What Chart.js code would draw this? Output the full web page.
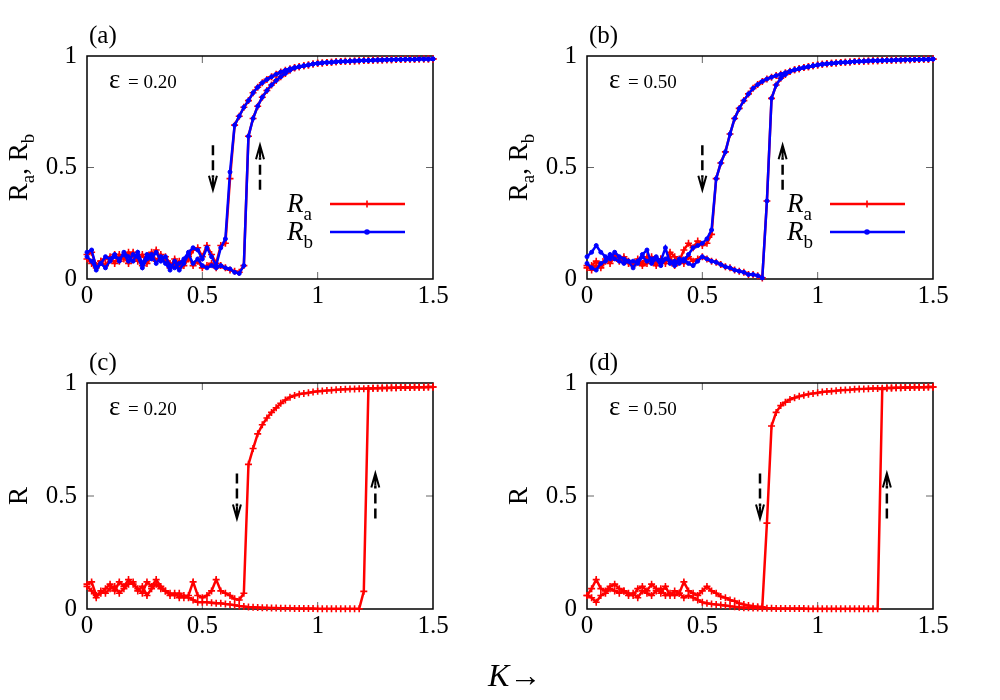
<!DOCTYPE html>
<html>
<head>
<meta charset="utf-8">
<script src="https://cdn.jsdelivr.net/npm/chart.js@4"></script>
<style>
body { margin: 0; background: #fff; }
#wrap { position: relative; width: 1000px; height: 700px; }
.panel { position: absolute; width: 500px; height: 330px; }
#kLabel { position: absolute; left: 488px; top: 659px; font: 32px "Liberation Serif", serif; line-height: 1; white-space: nowrap; }
</style>
</head>
<body>
<div id="wrap">
  <div class="panel" style="left:0;top:0"><canvas id="chartA" width="500" height="330"></canvas></div>
  <div class="panel" style="left:500px;top:0"><canvas id="chartB" width="500" height="330"></canvas></div>
  <div class="panel" style="left:0;top:330px"><canvas id="chartC" width="500" height="330"></canvas></div>
  <div class="panel" style="left:500px;top:330px"><canvas id="chartD" width="500" height="330"></canvas></div>
  <div id="kLabel"><i>K</i>&rarr;</div>
</div>
<script>
// coupling strength K, one point every 0.02
const kValues = [0, 0.02, 0.04, 0.06, 0.08, 0.1, 0.12, 0.14, 0.16, 0.18,
  0.2, 0.22, 0.24, 0.26, 0.28, 0.3, 0.32, 0.34, 0.36, 0.38,
  0.4, 0.42, 0.44, 0.46, 0.48, 0.5, 0.52, 0.54, 0.56, 0.58,
  0.6, 0.62, 0.64, 0.66, 0.68, 0.7, 0.72, 0.74, 0.76, 0.78,
  0.8, 0.82, 0.84, 0.86, 0.88, 0.9, 0.92, 0.94, 0.96, 0.98,
  1, 1.02, 1.04, 1.06, 1.08, 1.1, 1.12, 1.14, 1.16, 1.18,
  1.2, 1.22, 1.24, 1.26, 1.28, 1.3, 1.32, 1.34, 1.36, 1.38,
  1.4, 1.42, 1.44, 1.46, 1.48, 1.5];

const xTicks = [0, 0.5, 1, 1.5];
const yTicks = [0, 0.5, 1];

// (a) eps = 0.20
const aRaDown = [0.11, 0.12, 0.06, 0.08, 0.09, 0.10, 0.07, 0.11, 0.09, 0.12,
  0.10, 0.08, 0.11, 0.07, 0.10, 0.13, 0.09, 0.10, 0.07, 0.06,
  0.08, 0.06, 0.09, 0.13, 0.14, 0.10, 0.15, 0.11, 0.07, 0.15,
  0.16, 0.45, 0.69, 0.73, 0.77, 0.80, 0.835, 0.86, 0.88, 0.895,
  0.907, 0.918, 0.928, 0.936, 0.943, 0.948, 0.952, 0.956, 0.960, 0.964,
  0.967, 0.969, 0.971, 0.972, 0.974, 0.975, 0.976, 0.977, 0.978, 0.979,
  0.980, 0.980, 0.981, 0.982, 0.982, 0.983, 0.983, 0.984, 0.984, 0.985,
  0.985, 0.985, 0.986, 0.986, 0.986, 0.987];
const aRaUp = [0.09, 0.07, 0.05, 0.08, 0.06, 0.09, 0.11, 0.08, 0.10, 0.07,
  0.12, 0.09, 0.06, 0.10, 0.12, 0.08, 0.11, 0.08, 0.05, 0.09,
  0.05, 0.08, 0.10, 0.06, 0.08, 0.05, 0.06, 0.07, 0.05, 0.06,
  0.05, 0.04, 0.035, 0.03, 0.06, 0.64, 0.72, 0.775, 0.815, 0.845,
  0.87, 0.89, 0.907, 0.922, 0.936, 0.946, 0.952, 0.956, 0.960, 0.964,
  0.967, 0.969, 0.971, 0.972, 0.974, 0.975, 0.976, 0.977, 0.978, 0.979,
  0.980, 0.980, 0.981, 0.982, 0.982, 0.983, 0.983, 0.984, 0.984, 0.985,
  0.985, 0.985, 0.986, 0.986, 0.986, 0.987];
const aRbDown = [0.12, 0.13, 0.05, 0.07, 0.10, 0.09, 0.11, 0.08, 0.12, 0.10,
  0.08, 0.12, 0.07, 0.11, 0.09, 0.12, 0.08, 0.10, 0.06, 0.05,
  0.07, 0.09, 0.12, 0.14, 0.13, 0.09, 0.14, 0.10, 0.06, 0.14,
  0.18, 0.48, 0.69, 0.73, 0.77, 0.80, 0.835, 0.86, 0.88, 0.895,
  0.907, 0.918, 0.928, 0.936, 0.943, 0.948, 0.952, 0.956, 0.960, 0.964,
  0.967, 0.969, 0.971, 0.972, 0.974, 0.975, 0.976, 0.977, 0.978, 0.979,
  0.980, 0.980, 0.981, 0.982, 0.982, 0.983, 0.983, 0.984, 0.984, 0.985,
  0.985, 0.985, 0.986, 0.986, 0.986, 0.987];
const aRbUp = [0.10, 0.08, 0.04, 0.07, 0.05, 0.08, 0.10, 0.09, 0.11, 0.08,
  0.11, 0.10, 0.05, 0.09, 0.11, 0.07, 0.10, 0.07, 0.04, 0.08,
  0.04, 0.07, 0.11, 0.07, 0.09, 0.06, 0.05, 0.06, 0.05, 0.06,
  0.05, 0.045, 0.03, 0.025, 0.06, 0.64, 0.72, 0.775, 0.815, 0.845,
  0.87, 0.89, 0.907, 0.922, 0.936, 0.946, 0.952, 0.956, 0.960, 0.964,
  0.967, 0.969, 0.971, 0.972, 0.974, 0.975, 0.976, 0.977, 0.978, 0.979,
  0.980, 0.980, 0.981, 0.982, 0.982, 0.983, 0.983, 0.984, 0.984, 0.985,
  0.985, 0.985, 0.986, 0.986, 0.986, 0.987];

// (b) eps = 0.50
const bRaDown = [0.05, 0.06, 0.08, 0.06, 0.09, 0.07, 0.10, 0.08, 0.09, 0.07,
  0.06, 0.09, 0.07, 0.10, 0.08, 0.06, 0.09, 0.07, 0.12, 0.10,
  0.08, 0.13, 0.16, 0.14, 0.17, 0.15, 0.16, 0.20, 0.45, 0.52,
  0.57, 0.65, 0.72, 0.765, 0.80, 0.83, 0.855, 0.872, 0.886, 0.897,
  0.905, 0.912, 0.918, 0.925, 0.932, 0.938, 0.943, 0.948, 0.952, 0.956,
  0.960, 0.963, 0.965, 0.967, 0.969, 0.971, 0.972, 0.973, 0.975, 0.976,
  0.977, 0.978, 0.979, 0.979, 0.980, 0.981, 0.981, 0.982, 0.982, 0.983,
  0.983, 0.984, 0.984, 0.985, 0.985, 0.986];
const bRaUp = [0.06, 0.04, 0.06, 0.05, 0.08, 0.10, 0.11, 0.09, 0.10, 0.08,
  0.07, 0.08, 0.06, 0.07, 0.10, 0.07, 0.09, 0.08, 0.10, 0.06,
  0.09, 0.07, 0.10, 0.08, 0.09, 0.10, 0.09, 0.08, 0.075, 0.065,
  0.055, 0.05, 0.04, 0.035, 0.03, 0.02, 0.02, 0.015, 0.005, 0.35,
  0.81, 0.87, 0.90, 0.917, 0.93, 0.938, 0.943, 0.948, 0.952, 0.956,
  0.960, 0.963, 0.965, 0.967, 0.969, 0.971, 0.972, 0.973, 0.975, 0.976,
  0.977, 0.978, 0.979, 0.979, 0.980, 0.981, 0.981, 0.982, 0.982, 0.983,
  0.983, 0.984, 0.984, 0.985, 0.985, 0.986];
const bRbDown = [0.07, 0.05, 0.04, 0.07, 0.08, 0.11, 0.09, 0.08, 0.07, 0.08,
  0.05, 0.08, 0.11, 0.13, 0.07, 0.09, 0.06, 0.09, 0.08, 0.06,
  0.09, 0.08, 0.11, 0.14, 0.15, 0.16, 0.18, 0.22, 0.45, 0.52,
  0.57, 0.65, 0.72, 0.765, 0.80, 0.83, 0.855, 0.872, 0.886, 0.897,
  0.905, 0.912, 0.918, 0.925, 0.932, 0.938, 0.943, 0.948, 0.952, 0.956,
  0.960, 0.963, 0.965, 0.967, 0.969, 0.971, 0.972, 0.973, 0.975, 0.976,
  0.977, 0.978, 0.979, 0.979, 0.980, 0.981, 0.981, 0.982, 0.982, 0.983,
  0.983, 0.984, 0.984, 0.985, 0.985, 0.986];
const bRbUp = [0.10, 0.12, 0.15, 0.12, 0.10, 0.09, 0.12, 0.10, 0.09, 0.08,
  0.08, 0.07, 0.10, 0.08, 0.09, 0.10, 0.08, 0.14, 0.07, 0.08,
  0.07, 0.09, 0.07, 0.06, 0.08, 0.10, 0.09, 0.08, 0.075, 0.065,
  0.055, 0.05, 0.04, 0.035, 0.03, 0.02, 0.02, 0.015, 0.005, 0.35,
  0.81, 0.87, 0.90, 0.917, 0.93, 0.938, 0.943, 0.948, 0.952, 0.956,
  0.960, 0.963, 0.965, 0.967, 0.969, 0.971, 0.972, 0.973, 0.975, 0.976,
  0.977, 0.978, 0.979, 0.979, 0.980, 0.981, 0.981, 0.982, 0.982, 0.983,
  0.983, 0.984, 0.984, 0.985, 0.985, 0.986];

// (c) eps = 0.20, global R
const cRDown = [0.11, 0.12, 0.06, 0.07, 0.09, 0.11, 0.08, 0.12, 0.10, 0.13,
  0.11, 0.09, 0.07, 0.12, 0.10, 0.13, 0.10, 0.08, 0.07, 0.06,
  0.07, 0.05, 0.06, 0.12, 0.06, 0.05, 0.06, 0.08, 0.13, 0.08,
  0.07, 0.06, 0.045, 0.04, 0.07, 0.64, 0.71, 0.775, 0.815, 0.845,
  0.87, 0.89, 0.91, 0.925, 0.937, 0.945, 0.95, 0.954, 0.957, 0.960,
  0.963, 0.965, 0.967, 0.968, 0.970, 0.971, 0.972, 0.973, 0.974, 0.975,
  0.975, 0.976, 0.977, 0.977, 0.978, 0.978, 0.979, 0.979, 0.980, 0.980,
  0.980, 0.981, 0.981, 0.981, 0.982, 0.982];
const cRUp = [0.10, 0.08, 0.05, 0.08, 0.07, 0.09, 0.10, 0.07, 0.09, 0.11,
  0.12, 0.08, 0.10, 0.06, 0.09, 0.11, 0.09, 0.08, 0.06, 0.07,
  0.05, 0.06, 0.05, 0.04, 0.03, 0.03, 0.03, 0.028, 0.025, 0.025,
  0.022, 0.02, 0.017, 0.013, 0.011, 0.009, 0.008, 0.007, 0.006, 0.005,
  0.004, 0.004, 0.003, 0.003, 0.003, 0.002, 0.002, 0.002, 0.002, 0.002,
  0.001, 0.001, 0.001, 0.001, 0.001, 0.001, 0.001, 0.001, 0.001, 0.001,
  0.078, 0.975, 0.977, 0.977, 0.978, 0.978, 0.979, 0.979, 0.980, 0.980,
  0.980, 0.981, 0.981, 0.981, 0.982, 0.982];

// (d) eps = 0.50, global R
const dRDown = [0.06, 0.09, 0.13, 0.09, 0.08, 0.10, 0.11, 0.09, 0.08, 0.07,
  0.06, 0.09, 0.10, 0.08, 0.11, 0.09, 0.07, 0.10, 0.06, 0.08,
  0.07, 0.12, 0.08, 0.07, 0.06, 0.08, 0.10, 0.08, 0.07, 0.055,
  0.05, 0.04, 0.035, 0.025, 0.02, 0.015, 0.012, 0.01, 0.01, 0.38,
  0.81, 0.87, 0.90, 0.915, 0.927, 0.935, 0.941, 0.946, 0.950, 0.954,
  0.957, 0.960, 0.962, 0.964, 0.966, 0.968, 0.969, 0.970, 0.972, 0.973,
  0.974, 0.975, 0.976, 0.976, 0.977, 0.978, 0.978, 0.979, 0.979, 0.980,
  0.980, 0.981, 0.981, 0.981, 0.982, 0.982];
const dRUp = [0.06, 0.05, 0.03, 0.06, 0.07, 0.09, 0.08, 0.07, 0.08, 0.06,
  0.07, 0.05, 0.08, 0.07, 0.06, 0.08, 0.09, 0.06, 0.07, 0.06,
  0.07, 0.05, 0.06, 0.05, 0.04, 0.03, 0.025, 0.022, 0.02, 0.018,
  0.015, 0.012, 0.01, 0.008, 0.006, 0.005, 0.004, 0.004, 0.003, 0.003,
  0.003, 0.002, 0.002, 0.002, 0.002, 0.002, 0.002, 0.002, 0.001, 0.001,
  0.001, 0.001, 0.001, 0.001, 0.001, 0.001, 0.001, 0.001, 0.001, 0.001,
  0.001, 0.001, 0.001, 0.001, 0.972, 0.978, 0.978, 0.979, 0.979, 0.980,
  0.980, 0.981, 0.981, 0.981, 0.982, 0.982];

const RED = '#ff0000';
const BLUE = '#0000ff';
const SERIF = '"Liberation Serif", "Times New Roman", serif';

function makeSet(values, color, style) {
  const cross = style === 'cross';
  return {
    data: values.map((v, i) => ({ x: kValues[i], y: v })),
    borderColor: color,
    backgroundColor: color,
    borderWidth: 2.5,
    pointStyle: style,
    pointRadius: cross ? 3.5 : 2,
    pointBorderWidth: cross ? 1.6 : 1,
    tension: 0,
    clip: false,
    order: cross ? 2 : 1
  };
}

// text with a lowered subscript, returns the x after it
function subText(ctx, x, y, base, sub, baseFont, subFont, drop) {
  ctx.font = baseFont;
  ctx.fillText(base, x, y);
  x += ctx.measureText(base).width;
  if (sub) {
    ctx.font = subFont;
    ctx.fillText(sub, x, y + drop);
    x += ctx.measureText(sub).width;
  }
  return x;
}

function drawArrow(ctx, x, y1, y2) {
  const dir = Math.sign(y2 - y1);
  ctx.save();
  ctx.strokeStyle = '#000';
  ctx.lineWidth = 2.5;
  ctx.setLineDash([10, 5]);
  ctx.beginPath();
  ctx.moveTo(x, y1);
  ctx.lineTo(x, y2 - dir * 12);
  ctx.stroke();
  ctx.setLineDash([]);
  ctx.lineWidth = 2;
  ctx.beginPath();
  ctx.moveTo(x, y2 - dir * 12);
  ctx.lineTo(x, y2);
  ctx.moveTo(x - 4, y2 - dir * 14);
  ctx.lineTo(x, y2);
  ctx.lineTo(x + 4, y2 - dir * 14);
  ctx.stroke();
  ctx.restore();
}

const decor = {
  id: 'decor',
  beforeDatasetsDraw(chart) {
    const { ctx, chartArea: a, scales } = chart;
    ctx.save();
    ctx.strokeStyle = '#666';
    ctx.lineWidth = 1;
    ctx.beginPath();
    [0.5, 1].forEach(v => {
      const x = scales.x.getPixelForValue(v);
      ctx.moveTo(x, a.bottom); ctx.lineTo(x, a.bottom - 7);
      ctx.moveTo(x, a.top); ctx.lineTo(x, a.top + 7);
    });
    const y = scales.y.getPixelForValue(0.5);
    ctx.moveTo(a.left, y); ctx.lineTo(a.left + 7, y);
    ctx.moveTo(a.right, y); ctx.lineTo(a.right - 7, y);
    ctx.stroke();
    ctx.strokeStyle = '#000';
    ctx.lineWidth = 1.5;
    ctx.strokeRect(a.left, a.top, a.right - a.left, a.bottom - a.top);
    ctx.restore();
  },
  afterDraw(chart, args, opts) {
    const { ctx, chartArea: a, scales } = chart;
    ctx.save();
    ctx.fillStyle = '#000';
    ctx.textBaseline = 'alphabetic';
    ctx.textAlign = 'left';

    // panel tag
    ctx.font = '25px ' + SERIF;
    ctx.fillText(opts.label, a.left + 2, a.top - 13);

    // epsilon value
    ctx.font = '27px ' + SERIF;
    ctx.fillText('\u03b5', a.left + 22, a.top + 32);
    ctx.font = '19px ' + SERIF;
    ctx.fillText('= ' + opts.eps, a.left + 41, a.top + 32);

    // y title, rotated
    ctx.save();
    ctx.translate(27, (a.top + a.bottom) / 2);
    ctx.rotate(-Math.PI / 2);
    const big = '27px ' + SERIF;
    const small = '19px ' + SERIF;
    let parts = opts.yTitle === 'ab'
      ? [['R', 'a'], [', R', 'b']]
      : [['R', '']];
    // measure for centering
    let w = 0;
    parts.forEach(p => {
      ctx.font = big; w += ctx.measureText(p[0]).width;
      ctx.font = small; w += ctx.measureText(p[1]).width;
    });
    let px = -w / 2;
    parts.forEach(p => { px = subText(ctx, px, 0, p[0], p[1], big, small, 7); });
    ctx.restore();

    // dashed arrows
    opts.arrows.forEach(ar => {
      drawArrow(ctx, scales.x.getPixelForValue(ar.k),
        scales.y.getPixelForValue(ar.from), scales.y.getPixelForValue(ar.to));
    });

    // legend
    if (opts.legend) {
      const rows = [['a', RED, 'cross', 148], ['b', BLUE, 'circle', 176]];
      rows.forEach(r => {
        const ly = a.top + r[3];
        subText(ctx, a.left + 200, ly + 8, 'R', r[0], 'italic 27px ' + SERIF, '19px ' + SERIF, 8);
        ctx.strokeStyle = r[1];
        ctx.lineWidth = 2.5;
        ctx.beginPath();
        ctx.moveTo(a.left + 243, ly);
        ctx.lineTo(a.left + 318, ly);
        ctx.stroke();
        ctx.fillStyle = r[1];
        ctx.lineWidth = 1.6;
        Chart.helpers.drawPoint(ctx, {
          pointStyle: r[2], radius: r[2] === 'cross' ? 3.5 : 2, rotation: 0, borderWidth: 1.6
        }, a.left + 280, ly);
        ctx.fillStyle = '#000';
      });
    }
    ctx.restore();
  }
};

function makeChart(id, topPad, sets, deco) {
  return new Chart(document.getElementById(id), {
    type: 'line',
    data: { datasets: sets },
    options: {
      responsive: false,
      animation: false,
      events: [],
      layout: { padding: { left: 0, right: 67, top: topPad, bottom: 21 } },
      scales: {
        x: {
          type: 'linear', min: 0, max: 1.5,
          afterBuildTicks: s => { s.ticks = xTicks.map(v => ({ value: v })); },
          afterFit: s => { s.height = 30; },
          grid: { display: false, drawTicks: false },
          border: { display: false },
          ticks: { color: '#000', padding: 2, maxRotation: 0, font: { family: SERIF, size: 25 }, callback: v => String(v) }
        },
        y: {
          type: 'linear', min: 0, max: 1,
          afterBuildTicks: s => { s.ticks = yTicks.map(v => ({ value: v })); },
          afterFit: s => { s.width = 87; },
          grid: { display: false, drawTicks: false },
          border: { display: false },
          ticks: { color: '#000', padding: 10, font: { family: SERIF, size: 25 }, callback: v => String(v) }
        }
      },
      plugins: {
        legend: { display: false },
        tooltip: { enabled: false },
        decor: deco
      }
    },
    plugins: [decor]
  });
}

makeChart('chartA', 56, [
  makeSet(aRbDown, BLUE, 'circle'), makeSet(aRbUp, BLUE, 'circle'),
  makeSet(aRaDown, RED, 'cross'), makeSet(aRaUp, RED, 'cross')
], {
  label: '(a)', eps: '0.20', yTitle: 'ab', legend: true,
  arrows: [{ k: 0.546, from: 0.6, to: 0.4 }, { k: 0.75, from: 0.4, to: 0.6 }]
});

makeChart('chartB', 56, [
  makeSet(bRbDown, BLUE, 'circle'), makeSet(bRbUp, BLUE, 'circle'),
  makeSet(bRaDown, RED, 'cross'), makeSet(bRaUp, RED, 'cross')
], {
  label: '(b)', eps: '0.50', yTitle: 'ab', legend: true,
  arrows: [{ k: 0.5, from: 0.6, to: 0.4 }, { k: 0.848, from: 0.4, to: 0.6 }]
});

makeChart('chartC', 53, [
  makeSet(cRDown, RED, 'cross'), makeSet(cRUp, RED, 'cross')
], {
  label: '(c)', eps: '0.20', yTitle: 'R', legend: false,
  arrows: [{ k: 0.65, from: 0.6, to: 0.4 }, { k: 1.25, from: 0.4, to: 0.6 }]
});

makeChart('chartD', 53, [
  makeSet(dRDown, RED, 'cross'), makeSet(dRUp, RED, 'cross')
], {
  label: '(d)', eps: '0.50', yTitle: 'R', legend: false,
  arrows: [{ k: 0.75, from: 0.6, to: 0.4 }, { k: 1.3, from: 0.4, to: 0.6 }]
});
</script>
</body>
</html>
